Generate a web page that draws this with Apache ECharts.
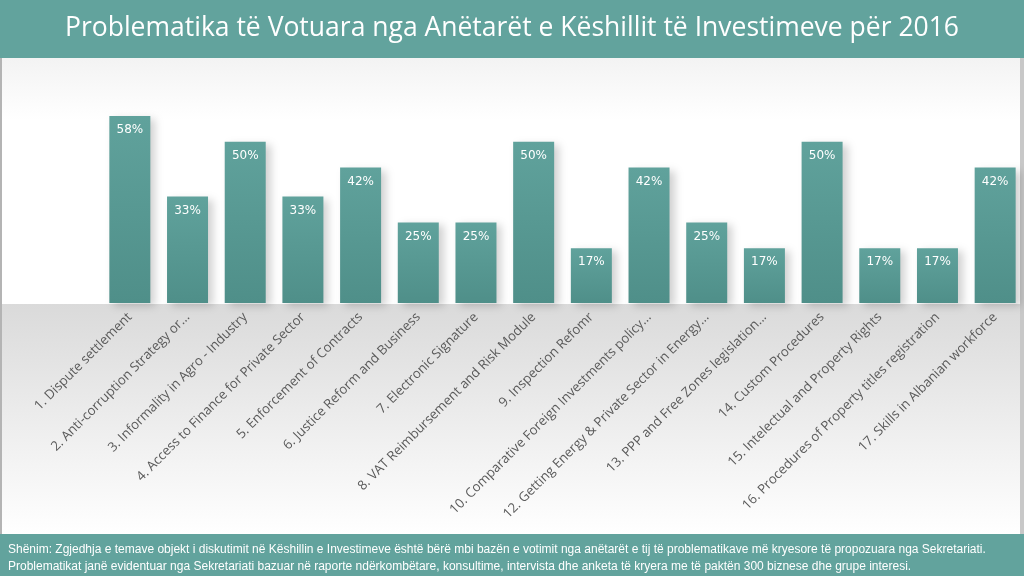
<!DOCTYPE html>
<html>
<head>
<meta charset="utf-8">
<script src="https://cdn.jsdelivr.net/npm/echarts@6/dist/echarts.min.js"></script>
<style>
  html, body { margin: 0; padding: 0; }
  #chart { width: 1024px; height: 576px; }
</style>
</head>
<body>
<div id="chart"></div>
<script>
// temat e votuara (11 mungon ne origjinal)
var categories = [
  '1. Dispute settlement',
  '2. Anti-corruption Strategy or...',
  '3. Informality in Agro - Industry',
  '4. Access to Finance for Private Sector',
  '5. Enforcement of Contracts',
  '6. Justice Reform and Business',
  '7. Electronic Signature',
  '8. VAT Reimbursement and Risk Module',
  '9. Inspection Refomr',
  '10. Comparative Foreign Investments policy...',
  '12. Getting Energy & Private Sector in Energy...',
  '13. PPP and Free Zones legislation...',
  '14. Custom Procedures',
  '15. Intelectual and Property Rights',
  '16. Procedures of Property titles registration',
  '17. Skills in Albanian workforce'
]
var votes = [58, 33, 50, 33, 42, 25, 25, 50, 17, 42, 25, 17, 50, 17, 17, 42]

var titleText = 'Problematika të Votuara nga Anëtarët e Këshillit të Investimeve për 2016'
var noteLines = [
  'Shënim: Zgjedhja e temave objekt i diskutimit në Këshillin e Investimeve është bërë mbi bazën e votimit nga anëtarët e tij të problematikave më kryesore të propozuara nga Sekretariati.',
  'Problematikat janë evidentuar nga Sekretariati bazuar në raporte ndërkombëtare, konsultime, intervista dhe anketa të kryera me të paktën 300 biznese dhe grupe interesi.'
]

const teal = '#62a39d'
var myChart = echarts.init(document.getElementById('chart'))

let option = {
  backgroundColor: '#ffffff',
  animation: false,
  graphic: [
    // sfondi i zones se grafikut
    {
      type: 'rect', z: -10,
      shape: { x: 0, y: 58, width: 1024, height: 248 },
      style: { fill: new echarts.graphic.LinearGradient(0, 0, 0, 1, [
        { offset: 0, color: '#f3f3f3' },
        { offset: 0.25, color: '#ffffff' },
        { offset: 1, color: '#ffffff' }
      ]) }
    },
    {
      type: 'rect', z: -10,
      shape: { x: 0, y: 304, width: 1024, height: 230 },
      style: { fill: new echarts.graphic.LinearGradient(0, 0, 0, 1, [
        { offset: 0, color: '#dadada' },
        { offset: 1, color: '#ffffff' }
      ]) }
    },
    // kornizat anesore
    { type: 'rect', z: -5, shape: { x: 0, y: 58, width: 2, height: 476 }, style: { fill: '#b4b4b4' } },
    { type: 'rect', z: -5, shape: { x: 1020, y: 58, width: 4, height: 476 }, style: { fill: '#c8c8c8' } },
    // shiriti i titullit
    { type: 'rect', z: -5, shape: { x: 0, y: 0, width: 1024, height: 58 }, style: { fill: teal } },
    // shiriti i shenimit
    { type: 'rect', z: -5, shape: { x: 0, y: 534, width: 1024, height: 42 }, style: { fill: teal } },
    {
      type: 'text', left: 8, top: 541,
      style: {
        text: noteLines.join('\n'),
        fill: '#ffffff',
        font: '12px "Liberation Sans", Arial, sans-serif',
        lineHeight: 17
      }
    }
  ],
  title: {
    text: titleText,
    left: 'center',
    top: 10,
    textStyle: {
      color: '#ffffff',
      fontFamily: '"Open Sans", sans-serif',
      fontWeight: 'normal',
      fontSize: 26.5
    }
  },
  grid: {
    left: 101,
    right: 0,
    top: 109.5,
    bottom: 273
  },
  xAxis: {
    type: 'category',
    data: categories,
    axisLine: { show: false },
    axisTick: { show: false },
    axisLabel: {
      interval: 0,
      rotate: 45,
      margin: 12,
      color: '#5a5a5a',
      fontFamily: '"Open Sans", sans-serif',
      fontSize: 13.2
    }
  },
  yAxis: {
    type: 'value',
    min: 0,
    max: 60,
    show: false
  },
  series: [
    {
      type: 'bar',
      data: votes,
      barWidth: 41,
      itemStyle: {
        color: new echarts.graphic.LinearGradient(0, 0, 0, 1, [
          { offset: 0, color: '#60a29c' },
          { offset: 1, color: '#4f8f89' }
        ]),
        shadowColor: 'rgba(0,0,0,0.18)',
        shadowBlur: 8,
        shadowOffsetX: 5,
        shadowOffsetY: 3
      },
      label: {
        show: true,
        position: 'insideTop',
        distance: 8,
        formatter: '{c}%',
        color: '#ffffff',
        fontFamily: '"DejaVu Sans", Verdana, sans-serif',
        fontWeight: 'normal',
        fontSize: 12
      }
    }
  ]
}

myChart.setOption(option)
</script>
</body>
</html>
